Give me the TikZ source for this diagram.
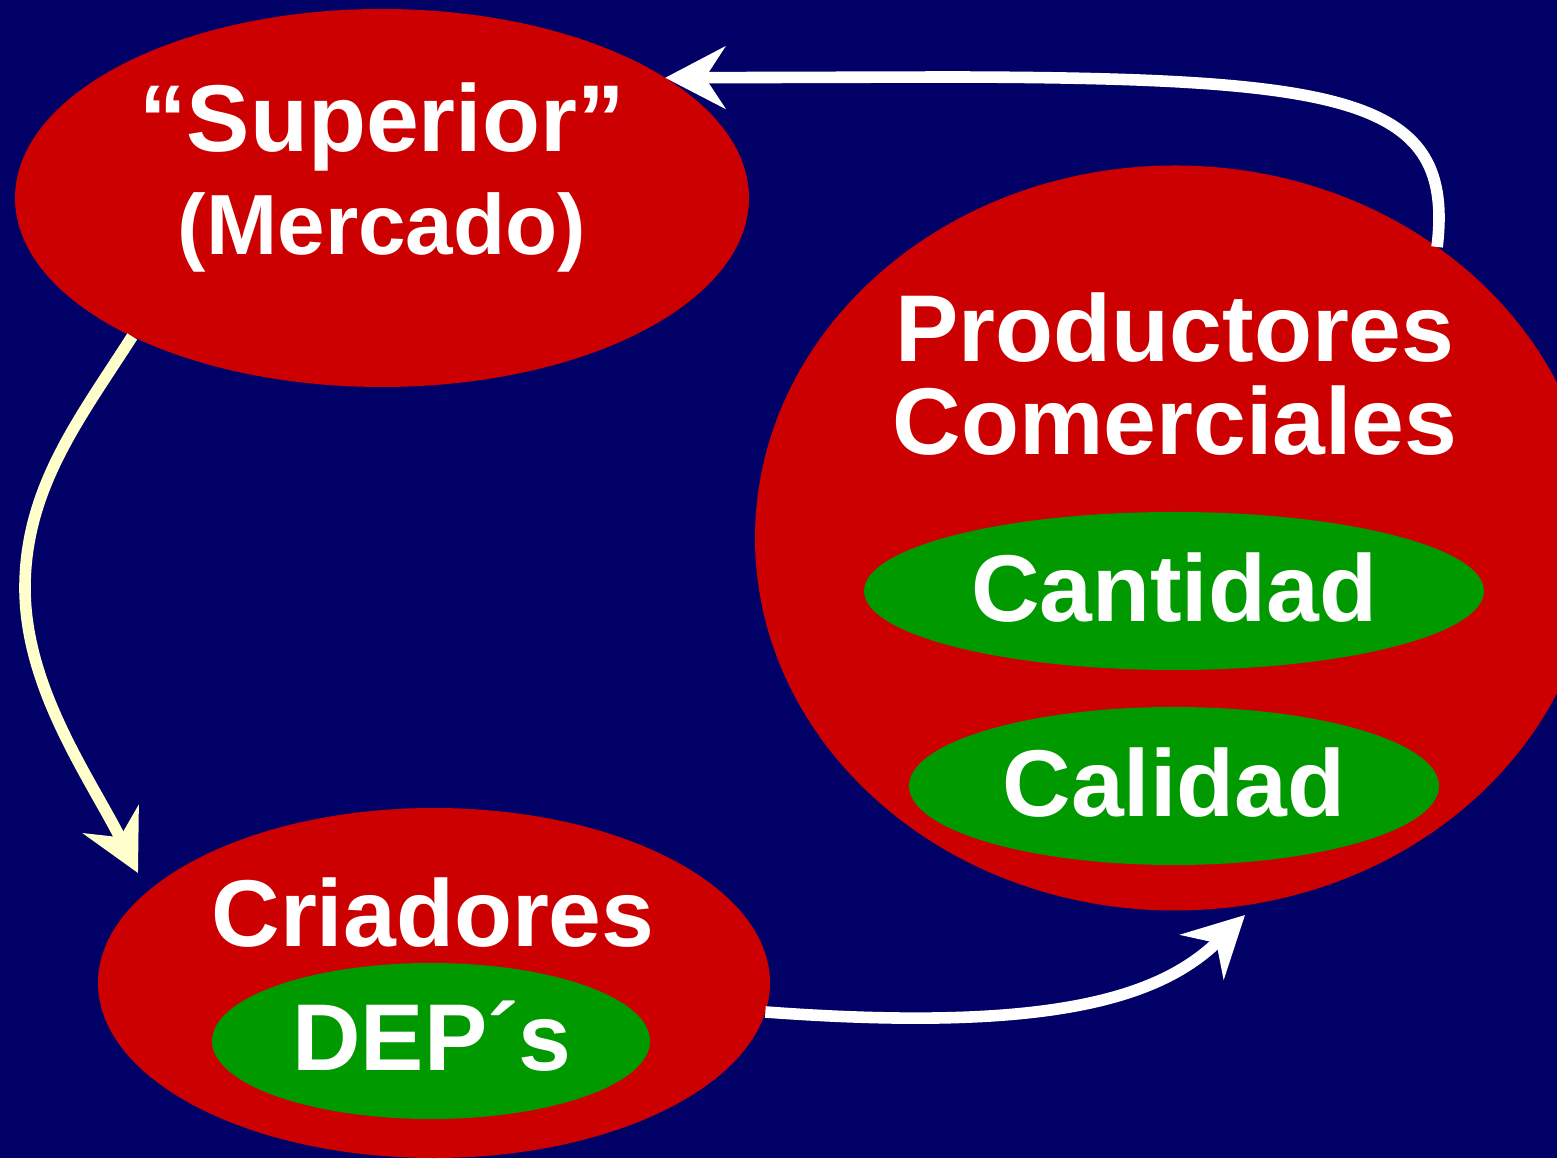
\documentclass[tikz,border=0pt]{standalone}
\usepackage{fontspec}
\setmainfont{Liberation Sans}
\usetikzlibrary{shapes.geometric, arrows.meta}
\definecolor{fondo}{HTML}{000066}
\definecolor{rojo}{HTML}{CC0000}
\definecolor{verde}{HTML}{009900}
\definecolor{crema}{HTML}{FFFFCC}

\begin{document}
\begin{tikzpicture}[oval/.style={ellipse, fill=rojo, inner sep=0pt, outer sep=0pt},
  ovalv/.style={ellipse, fill=verde, inner sep=0pt, outer sep=0pt},
  lbl/.style={text=white, font=\bfseries\fontsize{27pt}{27pt}\selectfont, anchor=base, inner sep=0pt},
  flecha/.style={line width=3.3pt, -{Stealth[length=0.6cm, width=0.62cm, inset=0.2cm]}}]
\fill[fondo] (0,0) rectangle (15.57,11.58);
\clip (0,0) rectangle (15.57,11.58);
% ovalos
\node[oval, minimum width=7.34cm, minimum height=3.78cm] (sup) at (3.82,9.60) {};
\node[oval, minimum width=8.40cm, minimum height=7.45cm] (prod) at (11.75,6.20) {};
\node[ovalv, minimum width=6.20cm, minimum height=1.58cm] (cant) at (11.74,5.67) {};
\node[ovalv, minimum width=5.30cm, minimum height=1.58cm] (cal) at (11.74,3.72) {};
\node[oval, minimum width=6.72cm, minimum height=3.50cm] (cria) at (4.34,1.75) {};
\node[ovalv, minimum width=4.38cm, minimum height=1.56cm] (dep) at (4.31,1.17) {};
% textos
\node[lbl] (tsup) at (3.82,10.06) {“Superior”};
\node[lbl, font=\bfseries\fontsize{24.3pt}{24.3pt}\selectfont] (tmer) at (3.82,9.03) {(Mercado)};
\node[lbl] (tprod) at (11.75,7.96) {Productores};
\node[lbl] (tcom) at (11.75,7.03) {Comerciales};
\node[lbl] (tcant) at (11.74,5.36) {Cantidad};
\node[lbl] (tcal) at (11.74,3.41) {Calidad};
\node[lbl] (tcria) at (4.33,2.12) {Criadores};
\node[lbl] (tdep) at (4.32,0.88) {DEP´s};
% flechas
\coordinate (criatip) at (1.38,2.85);
\coordinate (prodtip) at (12.45,2.43);
\draw[flecha, white] (prod.48.7) .. controls (14.55,10.6) and (13.5,10.8) .. (9.5,10.81) -- (sup.23.5);
\draw[flecha, crema] (sup.209.3) .. controls (0.8,7.4) and (0.25,6.7) .. (0.25,5.7)
  .. controls (0.25,4.7) and (0.9,3.8) .. (criatip);
\draw[flecha, white] (cria.-5.9) .. controls (10.5,1.25) and (11.6,1.6) .. (prodtip);
\end{tikzpicture}
\end{document}
